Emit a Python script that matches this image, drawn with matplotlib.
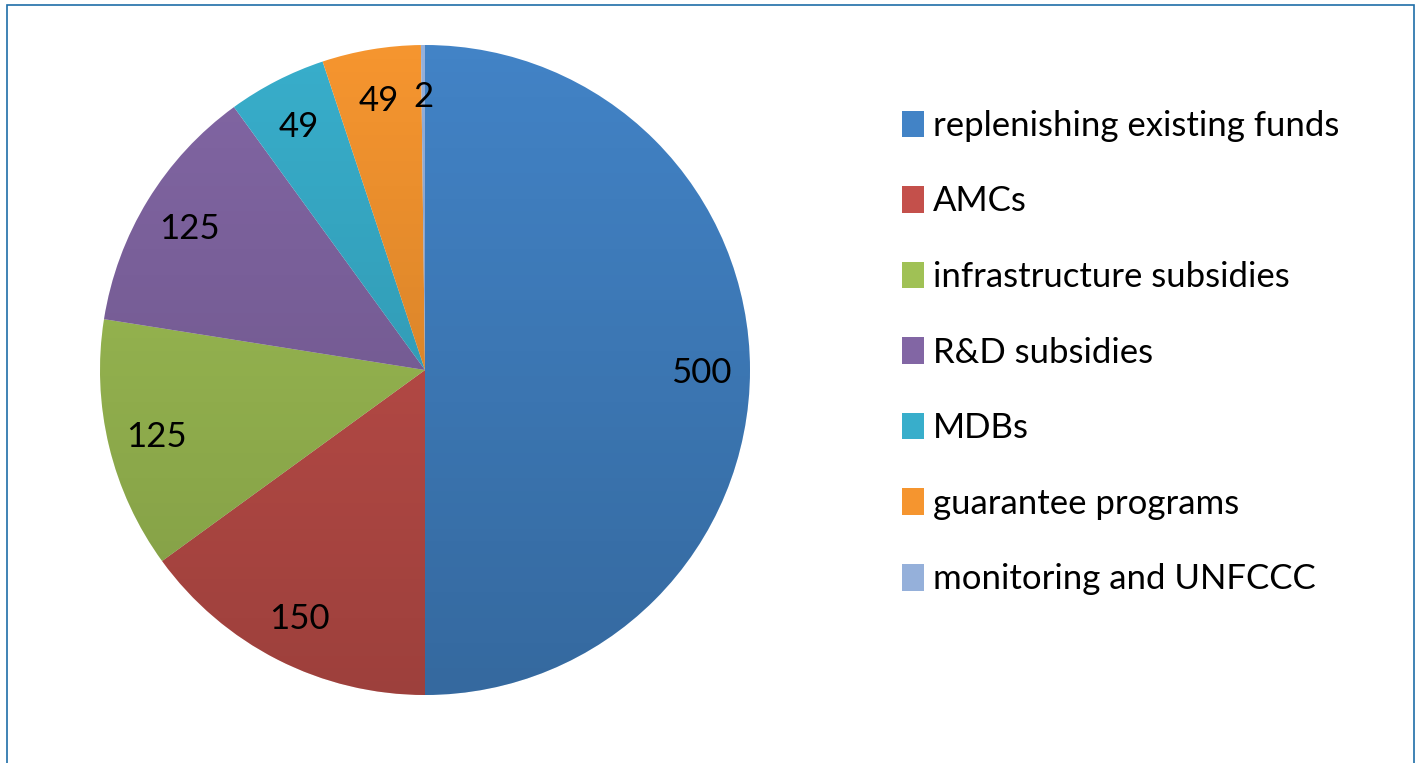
import numpy as np
import matplotlib
matplotlib.use("Agg")
import matplotlib.pyplot as plt
from matplotlib.patches import Rectangle, Circle

plt.rcParams['font.family'] = ['Lato', 'DejaVu Sans']

# data
categories = ["replenishing existing funds", "AMCs", "infrastructure subsidies",
              "R&D subsidies", "MDBs", "guarantee programs", "monitoring and UNFCCC"]
values = [500, 150, 125, 125, 49, 49, 2]
colors = ["#4283c6", "#c4504b", "#a0c155", "#8266a4", "#38aecb", "#f5952f", "#95b0da"]

W, H = 1419, 763
fig = plt.figure(figsize=(W / 100, H / 100), dpi=100)
fig.patch.set_facecolor("white")

# outer frame
fig.patches.append(Rectangle((7 / W, -0.01), (1414 - 7) / W, (H - 5) / H + 0.01,
                             transform=fig.transFigure, fill=False,
                             edgecolor="#1f6ea8", linewidth=1.2))

ax = fig.add_axes([100 / W, 68 / H, 650 / W, 650 / H])
wedges, texts, autotexts = ax.pie(
    values, colors=colors, startangle=90, counterclock=False,
    autopct=lambda p: "%d" % round(p * sum(values) / 100.0),
    pctdistance=0.85, radius=1.0,
    wedgeprops=dict(linewidth=0, antialiased=True),
    textprops=dict(fontsize=25, color="black"))
ax.set_xlim(-1, 1)
ax.set_ylim(-1, 1)
ax.set_aspect("auto")
ax.axis("off")

# darker towards the bottom, like the original shading
grad = np.linspace(0, 1, 256)
shade = np.zeros((256, 1, 4))
shade[:, 0, 3] = (1 - grad) * 0.2
img = ax.imshow(shade, extent=[-1, 1, -1, 1], origin="lower", aspect="auto", zorder=3)
img.set_clip_path(Circle((0, 0), 1.0, transform=ax.transData))
for t in autotexts:
    t.set_zorder(5)
    t.set_va("center_baseline")

# legend
handles = [Rectangle((0, 0), 1, 1, facecolor=c) for c in colors]
leg = fig.legend(handles, categories, loc="upper left",
                 bbox_to_anchor=(888 / W, 1 - 96 / H),
                 frameon=False, fontsize=25, handlelength=0.65, handleheight=0.8,
                 handletextpad=0.24, labelspacing=1.255, borderaxespad=0)

fig.savefig("out.png", dpi=100)
